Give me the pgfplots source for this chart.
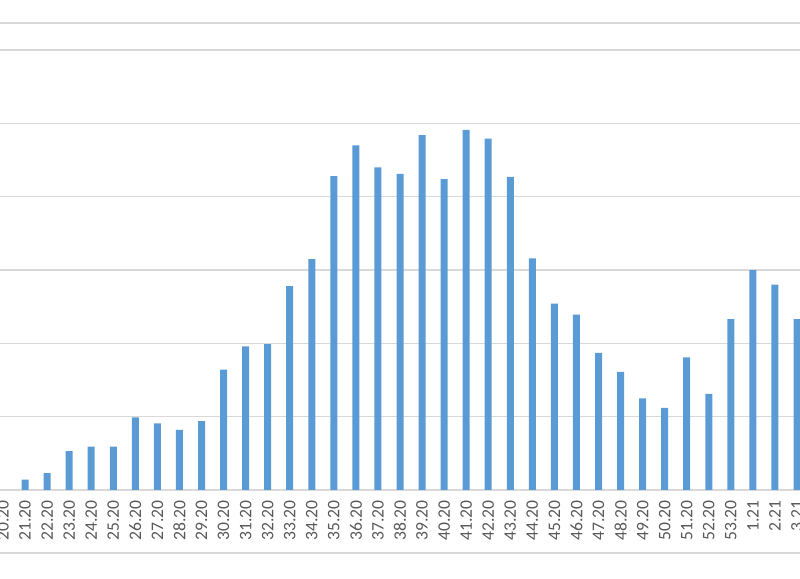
\documentclass[border=0pt]{standalone}
\usepackage{pgfplots}
\pgfplotsset{compat=1.18}
\usepackage{fontspec}
\setmainfont{Carlito}
\definecolor{barblue}{HTML}{5B9BD5}
\definecolor{gridgray}{HTML}{D9D9D9}
\definecolor{labgray}{HTML}{595959}
\begin{document}
\begin{tikzpicture}
\useasboundingbox (0,-44.5pt) rectangle (400pt,245pt);
\clip (0,-44.5pt) rectangle (400pt,245pt);
\begin{axis}[
  at={(0,0)}, anchor=south west,
  scale only axis, width=400pt, height=220pt,
  xmin=-0.136, xmax=36.136, ymin=0, ymax=600,
  ybar, bar width=3.5pt,
  xtick={0,...,36},
  xticklabels={20.20,21.20,22.20,23.20,24.20,25.20,26.20,27.20,28.20,29.20,30.20,31.20,32.20,33.20,34.20,35.20,36.20,37.20,38.20,39.20,40.20,41.20,42.20,43.20,44.20,45.20,46.20,47.20,48.20,49.20,50.20,51.20,52.20,53.20,1.21,2.21,3.21},
  xticklabel style={rotate=90, anchor=east, inner sep=0pt, font=\fontsize{8.8}{10}\selectfont, text=labgray},
  xticklabel shift=5pt,
  ytick={0,100,...,600}, yticklabels={},
  major tick length=0pt,
  ymajorgrids, grid style={gridgray, line width=0.7pt},
  axis lines*=left,
  y axis line style={draw=none},
  x axis line style={gridgray, line width=0.7pt, -},
]
\addplot[fill=barblue, draw=none] coordinates {
(1,14) (2,23) (3,53) (4,59) (5,59) (6,99) (7,91) (8,82) (9,94)
(10,164) (11,196) (12,199) (13,278) (14,315) (15,428) (16,470) (17,440)
(18,431) (19,484) (20,424) (21,491) (22,479) (23,427) (24,316) (25,254)
(26,239) (27,187) (28,161) (29,125) (30,112) (31,181) (32,131) (33,233)
(34,300) (35,280) (36,233)
};
\end{axis}
\draw[gridgray, line width=0.7pt] (0,233.5pt) -- (400pt,233.5pt);
\draw[gridgray, line width=0.7pt] (0,-31.5pt) -- (400pt,-31.5pt);
\end{tikzpicture}
\end{document}
